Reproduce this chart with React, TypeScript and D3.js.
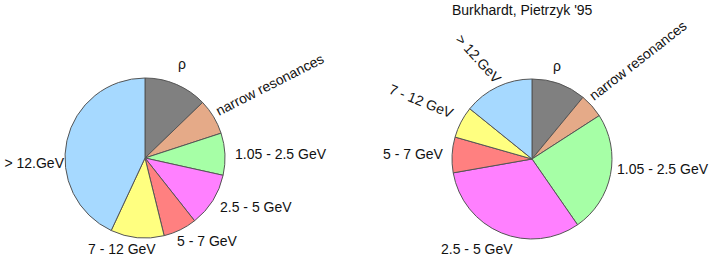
import React, { useEffect, useRef } from 'react';
import * as d3 from 'd3';

// Slice names, clockwise from 12 o'clock
const categories = ['ρ', 'narrow resonances', '1.05 - 2.5 GeV', '2.5 - 5 GeV', '5 - 7 GeV', '7 - 12 GeV', '> 12.GeV'];
// Fractions (%)
const leftValues = [12.8, 7.2, 8.5, 10.9, 6.8, 10.8, 43.1];
const rightValues = [11.0, 4.9, 24.5, 31.9, 7.2, 6.4, 14.2];
const rightTitle = "Burkhardt, Pietrzyk '95";

const colors = ['#808080', '#e5aa88', '#a6ffa6', '#ff80ff', '#ff8080', '#ffff80', '#a6d9ff'];

interface LabelPos { dx: number; dy: number; rot?: number; anchor?: string }

// label placement relative to each pie centre
const leftLabelPos: LabelPos[] = [
  { dx: 33, dy: -89 },
  { dx: 74, dy: -42, rot: -27 },
  { dx: 90, dy: 1 },
  { dx: 75, dy: 54 },
  { dx: 32, dy: 88 },
  { dx: -57, dy: 96 },
  { dx: -81, dy: 10, anchor: 'end' },
];
const rightLabelPos: LabelPos[] = [
  { dx: 21, dy: -88 },
  { dx: 62, dy: -58, rot: -38 },
  { dx: 85, dy: 15 },
  { dx: -91, dy: 95 },
  { dx: -149, dy: 0 },
  { dx: -144, dy: -66, rot: 22 },
  { dx: -77, dy: -119, rot: 48 },
];

function App() {
  const ref = useRef<SVGSVGElement>(null);

  useEffect(() => {
    const svg = d3.select(ref.current);
    svg.selectAll('*').remove();

    const radius = 80;
    const pie = d3.pie<number>().sort(null).value(d => d);
    const arc = d3.arc<d3.PieArcDatum<number>>().innerRadius(0).outerRadius(radius);

    const drawPie = (cx: number, cy: number, values: number[], pos: LabelPos[]) => {
      const g = svg.append('g').attr('transform', `translate(${cx},${cy})`);
      g.selectAll('path')
        .data(pie(values))
        .enter().append('path')
        .attr('d', arc)
        .attr('fill', (d, i) => colors[i])
        .attr('stroke', '#555')
        .attr('stroke-width', 1);

      g.selectAll('text')
        .data(categories)
        .enter().append('text')
        .attr('transform', (d, i) => `translate(${pos[i].dx},${pos[i].dy}) rotate(${pos[i].rot || 0})`)
        .attr('text-anchor', (d, i) => pos[i].anchor || 'start')
        .attr('font-family', '"Liberation Sans", Arial, Helvetica, sans-serif')
        .attr('font-size', 14)
        .attr('fill', '#111')
        .text(d => d);
    };

    drawPie(145, 158, leftValues, leftLabelPos);
    drawPie(532, 159, rightValues, rightLabelPos);

    svg.append('text')
      .attr('x', 452)
      .attr('y', 15)
      .attr('font-family', '"Liberation Sans", Arial, Helvetica, sans-serif')
      .attr('font-size', 14)
      .attr('fill', '#111')
      .text(rightTitle);
  }, []);

  return (
    <svg ref={ref} width={709} height={257}
      style={{ position: 'absolute', left: 0, top: 0, background: '#fff' }} />
  );
}

export default App;
